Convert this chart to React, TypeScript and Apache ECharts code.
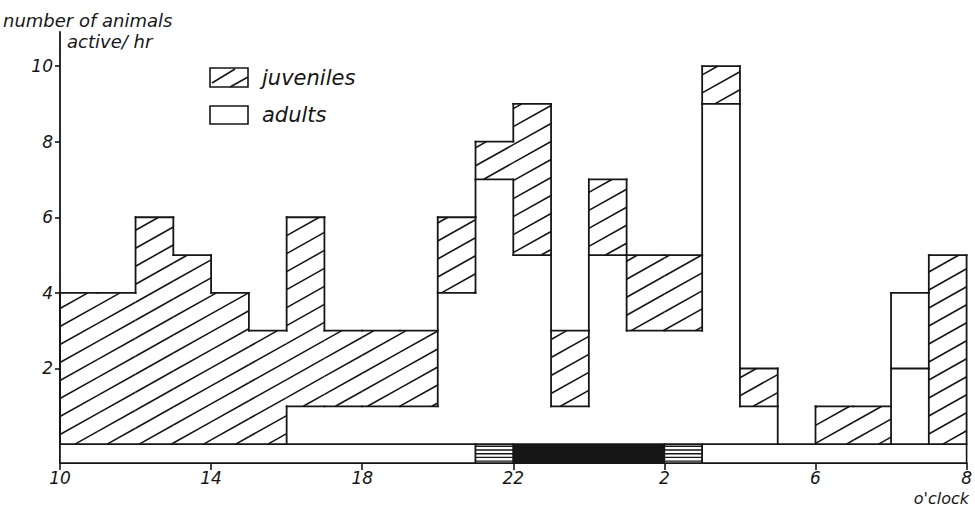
import React, { useEffect, useRef } from "react";
import * as echarts from "echarts";

// Hourly bins starting at 10 o'clock (index 0) through 9 o'clock next morning (index 23)
const hourStarts = [10, 11, 12, 13, 14, 15, 16, 17, 18, 19, 20, 21, 22, 23, 0, 1, 2, 3, 4, 5, 6, 7, 8, 9];
const adults = [0, 0, 0, 0, 0, 0, 1, 1, 1, 1, 4, 7, 5, 1, 5, 3, 3, 9, 1, 0, 0, 0, 2, 0];
const juveniles = [4, 4, 6, 5, 4, 3, 5, 2, 2, 2, 2, 1, 4, 2, 2, 2, 2, 1, 1, 0, 1, 1, 2, 5];
// bin whose upper part is printed without shading in the original
const unhatchedIndex = [22];

const xTickLabels = ["10", "14", "18", "22", "2", "6", "8"];
const yTickValues = [2, 4, 6, 8, 10];

// light regime bar below the axis (hours from 10 o'clock)
const phaseStart = [0, 11, 12, 16, 17];
const phaseEnd = [11, 12, 16, 17, 24];
const phaseKind = ["day", "twilight", "night", "twilight", "day"];

const INK = "#161616";
const FONT = "DejaVu Sans";
const SLOPE = 0.56;
const VSPACE = 18;
const BAND_DEPTH = -0.5;

function hatchLines(x0: number, x1: number, yTop: number, yBot: number, phase: number) {
  const out: any[] = [];
  const cmin = yTop + SLOPE * x0;
  const cmax = yBot + SLOPE * x1;
  const n0 = Math.ceil((cmin - phase) / VSPACE);
  const n1 = Math.floor((cmax - phase) / VSPACE);
  for (let n = n0; n <= n1; n++) {
    const c = phase + n * VSPACE;
    const xs = Math.max(x0, (c - yBot) / SLOPE);
    const xe = Math.min(x1, (c - yTop) / SLOPE);
    if (xe - xs > 0.5) {
      out.push({
        type: "line",
        shape: { x1: xs, y1: c - SLOPE * xs, x2: xe, y2: c - SLOPE * xe },
        style: { stroke: INK, lineWidth: 1.6 },
      });
    }
  }
  return out;
}

function cls(k: number, y: number) {
  if (k < 0 || k >= adults.length) return 0;
  const a = adults[k];
  const t = a + juveniles[k];
  if (y < a) return 1;
  if (y < t) return unhatchedIndex.includes(k) ? 3 : 2;
  return 0;
}

function total(k: number) {
  if (k < 0 || k >= adults.length) return 0;
  return adults[k] + juveniles[k];
}
function adl(k: number) {
  if (k < 0 || k >= adults.length) return 0;
  return adults[k];
}

function boundary(api: any, xVal: number, l: number, r: number) {
  const pts = Array.from(new Set([0, adl(l), total(l), adl(r), total(r)])).sort((p, q) => p - q);
  const out: any[] = [];
  for (let m = 0; m < pts.length - 1; m++) {
    const p = pts[m];
    const q = pts[m + 1];
    if (q <= p) continue;
    const mid = (p + q) / 2;
    if (cls(l, mid) !== cls(r, mid)) {
      const a = api.coord([xVal, p]);
      const b = api.coord([xVal, q]);
      out.push({
        type: "line",
        shape: { x1: a[0], y1: a[1], x2: b[0], y2: b[1] },
        style: { stroke: INK, lineWidth: 1.8, lineCap: "square" },
      });
    }
  }
  return out;
}

export default function App() {
  const ref = useRef<HTMLDivElement>(null);

  useEffect(() => {
    document.body.style.margin = "0";
    if (!ref.current) return;
    const chart = echarts.init(ref.current, null, { renderer: "svg" });

    const barData = hourStarts.map((h, i) => [i, adults[i], juveniles[i], h]);
    const bandData = phaseStart.map((s, i) => [s, phaseEnd[i], i]);

    const textStyle = (size: number) => ({
      fontFamily: FONT,
      fontStyle: "italic",
      fontSize: size,
      lineHeight: size,
      fill: INK,
    });

    chart.setOption({
      animation: false,
      backgroundColor: "#ffffff",
      grid: { left: 60, right: 8, top: 32, bottom: 45 },
      xAxis: {
        type: "value",
        min: 0,
        max: 24,
        interval: 4,
        axisLine: { show: true, onZero: false, lineStyle: { color: INK, width: 1.8 } },
        axisTick: { show: true, length: 7, lineStyle: { color: INK, width: 1.6 } },
        axisLabel: {
          formatter: (v: number) => xTickLabels[Math.round(v / 4)] ?? "",
          fontFamily: FONT,
          fontStyle: "italic",
          fontSize: 17,
          lineHeight: 17,
          color: INK,
          margin: 6,
        },
        splitLine: { show: false },
      },
      yAxis: {
        type: "value",
        min: BAND_DEPTH,
        max: 10.9,
        axisLine: { show: true, onZero: false, lineStyle: { color: INK, width: 1.8 } },
        axisTick: { show: true, length: 5, customValues: yTickValues, lineStyle: { color: INK, width: 1.6 } },
        axisLabel: {
          customValues: yTickValues,
          fontFamily: FONT,
          fontStyle: "italic",
          fontSize: 17,
          color: INK,
          margin: 7,
        },
        splitLine: { show: false },
      },
      series: [
        {
          type: "custom",
          name: "light",
          data: bandData,
          silent: true,
          renderItem: (params: any, api: any) => {
            const s = api.value(0);
            const e = api.value(1);
            const k = phaseKind[api.value(2)];
            const p0 = api.coord([s, 0]);
            const p1 = api.coord([e, BAND_DEPTH]);
            const x = p0[0];
            const y = p0[1];
            const w = p1[0] - p0[0];
            const h = p1[1] - p0[1];
            const children: any[] = [];
            if (k === "night") {
              children.push({ type: "rect", shape: { x, y, width: w, height: h }, style: { fill: INK, stroke: INK, lineWidth: 1.5 } });
            } else {
              children.push({ type: "rect", shape: { x, y, width: w, height: h }, style: { fill: "#fff", stroke: INK, lineWidth: 1.6 } });
              if (k === "twilight") {
                for (let m = 0; m < 5; m++) {
                  const yy = y + 2.2 + m * 3.7;
                  children.push({
                    type: "line",
                    shape: { x1: x, y1: yy, x2: x + w, y2: yy },
                    style: { stroke: INK, lineWidth: 1.4 },
                  });
                }
              }
            }
            return { type: "group", children };
          },
        },
        {
          type: "custom",
          name: "animals",
          data: barData,
          silent: true,
          renderItem: (params: any, api: any) => {
            const i = api.value(0);
            const a = api.value(1);
            const j = api.value(2);
            const pB = api.coord([i, 0]);
            const x0 = pB[0];
            const x1 = api.coord([i + 1, 0])[0];
            const yA = api.coord([i, a])[1];
            const yT = api.coord([i, a + j])[1];
            const origin = api.coord([0, 0]);
            const phase = origin[1] + SLOPE * (origin[0] + 15);
            let children: any[] = [];
            if (j > 0 && !unhatchedIndex.includes(i)) {
              children = children.concat(hatchLines(x0, x1, yT, yA, phase));
            }
            if (a + j > 0) {
              children.push({
                type: "line",
                shape: { x1: x0, y1: yT, x2: x1, y2: yT },
                style: { stroke: INK, lineWidth: 1.8, lineCap: "square" },
              });
            }
            if (a > 0 && j > 0) {
              children.push({
                type: "line",
                shape: { x1: x0, y1: yA, x2: x1, y2: yA },
                style: { stroke: INK, lineWidth: 1.8, lineCap: "square" },
              });
            }
            children = children.concat(boundary(api, i, i - 1, i));
            if (i === hourStarts.length - 1) children = children.concat(boundary(api, i + 1, i, i + 1));
            return { type: "group", children };
          },
        },
      ],
      graphic: [
        { type: "text", x: 3, y: 11, style: { ...textStyle(18), text: "number of animals" } },
        { type: "text", x: 67, y: 32, style: { ...textStyle(18), text: "active/ hr" } },
        { type: "rect", shape: { x: 210, y: 68, width: 38, height: 19 }, style: { fill: "#fff", stroke: INK, lineWidth: 1.6 } },
        { type: "line", shape: { x1: 212, y1: 83, x2: 235, y2: 69 }, style: { stroke: INK, lineWidth: 1.6 } },
        { type: "line", shape: { x1: 230, y1: 87, x2: 248, y2: 77 }, style: { stroke: INK, lineWidth: 1.6 } },
        { type: "text", x: 262, y: 78, style: { ...textStyle(21), text: "juveniles", verticalAlign: "middle" } },
        { type: "rect", shape: { x: 210, y: 106, width: 38, height: 18 }, style: { fill: "#fff", stroke: INK, lineWidth: 1.6 } },
        { type: "text", x: 262, y: 115, style: { ...textStyle(21), text: "adults", verticalAlign: "middle" } },
        { type: "text", x: 969, y: 490, style: { ...textStyle(16), text: "o'clock", align: "right" } },
      ],
    });

    return () => chart.dispose();
  }, []);

  return <div ref={ref} style={{ width: 975, height: 508 }} />;
}
